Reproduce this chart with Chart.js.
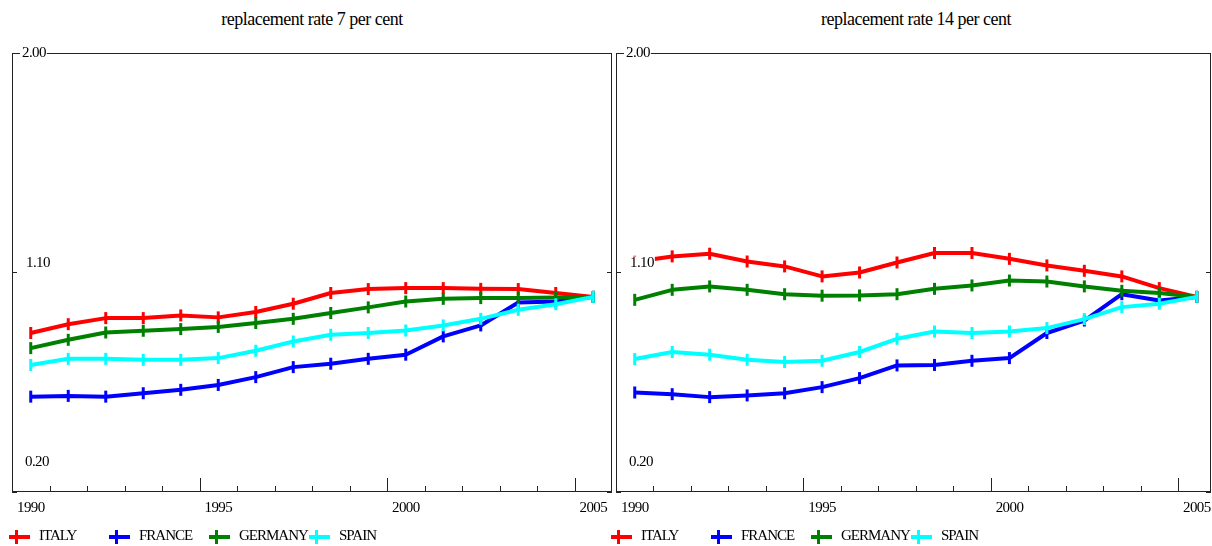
<!DOCTYPE html>
<html>
<head>
<meta charset="utf-8">
<script src="https://cdn.jsdelivr.net/npm/chart.js@4"></script>
<style>
  html, body { margin: 0; padding: 0; background: #fff; overflow: hidden; }
  #wrap { position: relative; width: 1212px; height: 546px; overflow: hidden; }
  .title { position: absolute; top: 8px; width: 600px; text-align: center;
           font: 18px "Liberation Serif", serif; letter-spacing: -0.5px; line-height: 22px; color: #000; }
  .pane { position: absolute; top: 0; }
  .leg { position: absolute; top: 526px; height: 20px;
         font: 15px "Liberation Serif", serif; letter-spacing: -1px; color: #000; }
  .leg .mk { position: absolute; top: 9px; width: 21px; height: 4px; }
  .leg .mk i { position: absolute; left: 6px; top: -5px; width: 3px; height: 14px; background: inherit; }
  .leg .tx { position: absolute; left: 30px; top: 0; white-space: nowrap; line-height: 18px; }
</style>
</head>
<body>
<div id="wrap">
  <div class="title" style="left:12px">replacement rate 7 per cent</div>
  <div class="title" style="left:616px">replacement rate 14 per cent</div>
  <div class="pane" style="left:0"><canvas id="chart7" width="612" height="546"></canvas></div>
  <div class="pane" style="left:606px"><canvas id="chart14" width="606" height="546"></canvas></div>
</div>
<script>
// annual observations, plotted at mid-year
const years = [1990, 1991, 1992, 1993, 1994, 1995, 1996, 1997, 1998, 1999, 2000, 2001, 2002, 2003, 2004, 2005];
const countries = ['ITALY', 'FRANCE', 'GERMANY', 'SPAIN'];
const lineColors = ['#ff0000', '#0000ff', '#008000', '#00ffff'];

// replacement rate 7 per cent
const italy7   = [0.852, 0.888, 0.913, 0.913, 0.924, 0.916, 0.938, 0.972, 1.016, 1.032, 1.036, 1.036, 1.033, 1.032, 1.016, 1.000];
const france7  = [0.591, 0.594, 0.591, 0.605, 0.619, 0.639, 0.671, 0.712, 0.726, 0.746, 0.763, 0.838, 0.883, 0.977, 0.981, 1.000];
const germany7 = [0.790, 0.824, 0.854, 0.861, 0.868, 0.877, 0.893, 0.910, 0.934, 0.957, 0.981, 0.992, 0.995, 0.995, 0.998, 1.000];
const spain7   = [0.721, 0.746, 0.746, 0.742, 0.742, 0.749, 0.779, 0.817, 0.845, 0.852, 0.862, 0.883, 0.910, 0.947, 0.970, 1.000];

// replacement rate 14 per cent
const italy14   = [1.144, 1.166, 1.177, 1.145, 1.125, 1.084, 1.100, 1.141, 1.180, 1.180, 1.156, 1.129, 1.107, 1.084, 1.036, 1.000];
const france14  = [0.608, 0.601, 0.589, 0.596, 0.605, 0.630, 0.667, 0.719, 0.721, 0.738, 0.749, 0.852, 0.903, 1.011, 0.985, 1.000];
const germany14 = [0.988, 1.029, 1.043, 1.029, 1.011, 1.005, 1.006, 1.011, 1.033, 1.047, 1.067, 1.063, 1.043, 1.025, 1.016, 1.000];
const spain14   = [0.745, 0.774, 0.763, 0.742, 0.733, 0.738, 0.774, 0.828, 0.858, 0.852, 0.858, 0.872, 0.909, 0.958, 0.972, 1.000];

const yTicks = [2.00, 1.10, 0.20];
const xTicks = [1990, 1995, 2000, 2005];

const FONT = '15px "Liberation Serif", serif';
const INK = '#222';

// box, inward tick marks and labels in the style of the original graphs
const framePlugin = {
    id: 'frame',
    afterDatasetsDraw(chart) {
        const ctx = chart.ctx;
        const { left, right, top, bottom } = chart.chartArea;
        const xs = chart.scales.x, ys = chart.scales.y;
        ctx.save();
        ctx.strokeStyle = INK;
        ctx.lineWidth = 1;
        ctx.strokeRect(left + 0.5, top + 0.5, right - left - 1, bottom - top - 1);

        // year ticks along the bottom, longer every five years
        ctx.beginPath();
        for (let yr = xs.min + 1; yr < xs.max; yr++) {
            const px = Math.round(xs.getPixelForValue(yr)) + 0.5;
            const len = yr % 5 === 0 ? 14 : 6;
            ctx.moveTo(px, bottom);
            ctx.lineTo(px, bottom - len);
        }
        // value ticks on both sides
        yTicks.forEach(v => {
            const py = Math.round(ys.getPixelForValue(v)) + 0.5;
            ctx.moveTo(left, py); ctx.lineTo(left + 5, py);
            ctx.moveTo(right, py); ctx.lineTo(right - 5, py);
        });
        ctx.stroke();

        ctx.font = FONT;
        ctx.fillStyle = '#000';
        ctx.textBaseline = 'middle';
        ctx.textAlign = 'left';
        if ('letterSpacing' in ctx) ctx.letterSpacing = '-0.6px';

        const dy = [0, -9, -30];
        const dx = [10, 14, 13];
        yTicks.forEach((v, i) => {
            const txt = v.toFixed(2);
            const py = ys.getPixelForValue(v) + dy[i];
            const w = ctx.measureText(txt).width;
            ctx.fillStyle = '#fff';
            ctx.fillRect(left + dx[i] - 2, py - 7, w + 3, 14);
            ctx.fillStyle = '#000';
            ctx.fillText(txt, left + dx[i], py);
        });
        xTicks.forEach(yr => {
            ctx.fillText(String(yr), xs.getPixelForValue(yr) + 5, bottom + 16);
        });
        ctx.restore();
    }
};

function makeChart(id, seriesList, pad, xMax) {
    const datasets = seriesList.map((vals, i) => ({
        label: countries[i],
        data: vals.map((v, k) => ({ x: years[k] + 0.5, y: v })),
        borderColor: lineColors[i],
        backgroundColor: lineColors[i],
        borderWidth: 4,
        borderJoinStyle: 'round',
        tension: 0,
        pointStyle: 'line',
        rotation: 90,
        pointRadius: 6,
        pointBorderWidth: 3,
        pointBorderColor: lineColors[i],
        order: countries.length - i
    }));
    return new Chart(document.getElementById(id), {
        type: 'line',
        data: { datasets: datasets },
        options: {
            responsive: false,
            animation: false,
            events: [],
            layout: { padding: pad, autoPadding: false },
            plugins: { legend: { display: false }, tooltip: { enabled: false } },
            scales: {
                x: { type: 'linear', min: years[0], max: xMax, display: false },
                y: { min: 0.2, max: 2.0, display: false }
            }
        },
        plugins: [framePlugin]
    });
}

makeChart('chart7', [italy7, france7, germany7, spain7], { left: 12, top: 53, right: 0, bottom: 54 }, 2006);
makeChart('chart14', [italy14, france14, germany14, spain14], { left: 10, top: 53, right: 1, bottom: 54 }, 2005.88);

// legends under each panel
const wrap = document.getElementById('wrap');
[9, 611].forEach(x0 => {
    countries.forEach((name, i) => {
        const item = document.createElement('div');
        item.className = 'leg';
        item.style.left = (x0 + i * 100) + 'px';
        item.innerHTML = '<span class="mk" style="background:' + lineColors[i] + '"><i></i></span>' +
                         '<span class="tx">' + name + '</span>';
        wrap.appendChild(item);
    });
});
</script>
</body>
</html>
